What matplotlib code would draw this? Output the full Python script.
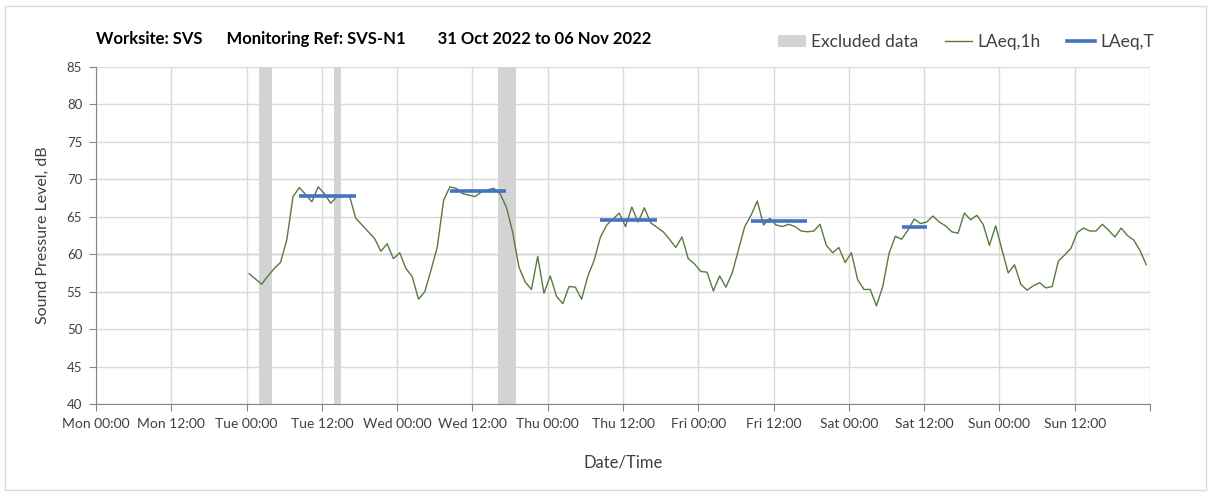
import numpy as np
import matplotlib
matplotlib.use("Agg")
from matplotlib import pyplot as plt
from matplotlib.patches import Patch, Rectangle
from matplotlib.lines import Line2D

plt.rcParams['font.family'] = ['Lato', 'DejaVu Sans']

# hourly LAeq,1h from Tue 00:00 (hour 24 after Mon 00:00) to Sun 23:00
first_hour = 24
tue = [57.4, 56.7, 56.0, 57.1, 58.1, 58.9, 61.9, 67.7, 68.9, 68.0, 67.0, 69.0,
       68.1, 66.8, 67.7, 67.7, 67.8, 64.8, 63.9, 63.0, 62.1, 60.4, 61.4, 59.4]
wed = [60.2, 58.1, 57.0, 54.0, 55.0, 57.9, 61.0, 67.2, 69.0, 68.8, 68.1, 67.9,
       67.7, 68.3, 68.6, 68.8, 68.1, 66.3, 63.0, 58.3, 56.3, 55.3, 59.7, 54.8]
thu = [57.1, 54.4, 53.4, 55.7, 55.6, 54.0, 57.1, 59.2, 62.3, 63.9, 64.7, 65.5,
       63.7, 66.3, 64.3, 66.2, 64.2, 63.6, 63.0, 62.0, 60.9, 62.3, 59.4, 58.7]
fri = [57.7, 57.6, 55.1, 57.1, 55.6, 57.5, 60.6, 63.7, 65.2, 67.1, 63.9, 64.8,
       63.9, 63.7, 64.0, 63.7, 63.1, 63.0, 63.1, 64.0, 61.2, 60.2, 60.9, 58.9]
sat = [60.2, 56.6, 55.3, 55.3, 53.1, 55.7, 60.1, 62.4, 62.0, 63.2, 64.7, 64.1,
       64.3, 65.1, 64.3, 63.8, 63.0, 62.8, 65.5, 64.6, 65.2, 64.0, 61.2, 63.8]
sun = [60.6, 57.5, 58.6, 56.0, 55.2, 55.8, 56.2, 55.5, 55.7, 59.1, 59.9, 60.8,
       62.9, 63.5, 63.1, 63.1, 64.0, 63.2, 62.3, 63.5, 62.5, 61.9, 60.5, 58.6]
laeq_1h = np.array(tue + wed + thu + fri + sat + sun)
hours = first_hour + np.arange(len(laeq_1h)) + 0.4

# LAeq,T over daytime periods: start hour, end hour, level
period_start = [32, 56, 80, 104, 128]
period_end = [41, 65, 89, 113, 132]
period_level = [67.8, 68.5, 64.6, 64.4, 63.7]

# excluded data windows (hours after Mon 00:00)
excl_start = [26, 38, 64]
excl_end = [28, 39, 67]

tick_labels = ['Mon 00:00', 'Mon 12:00', 'Tue 00:00', 'Tue 12:00', 'Wed 00:00',
               'Wed 12:00', 'Thu 00:00', 'Thu 12:00', 'Fri 00:00', 'Fri 12:00',
               'Sat 00:00', 'Sat 12:00', 'Sun 00:00', 'Sun 12:00']

green = '#587a3f'
blue = '#4472c4'
grey = '#d3d3d3'
txt = '#404040'

fig = plt.figure(figsize=(12.08, 4.95), dpi=100)
fig.patches.append(Rectangle((0.004, 0.01), 0.994, 0.978, transform=fig.transFigure,
                             fill=False, edgecolor='#d9d9d9', lw=1))
ax = fig.add_axes([0.0795, 0.1838, 0.8725, 0.6808])

for s, e in zip(excl_start, excl_end):
    ax.axvspan(s, e, color=grey, lw=0, zorder=1)

ax.plot(hours, laeq_1h, color=green, lw=1, zorder=3)
for s, e, lv in zip(period_start, period_end, period_level):
    ax.plot([s + 0.4, e + 0.4], [lv, lv], color=blue, lw=2.6, zorder=4,
            solid_capstyle='butt')

ax.set_xlim(0, 168)
ax.set_ylim(40, 85)
ax.set_xticks(np.arange(0, 169, 12))
ax.set_xticklabels(tick_labels + [''], fontsize=10, color=txt)
ax.set_yticks(np.arange(40, 86, 5))
ax.set_yticklabels([str(v) for v in range(40, 86, 5)], fontsize=9.5, color=txt)
ax.grid(True, color='#d9d9d9', lw=1, zorder=0)
ax.axhline(60, color='#b5b5b5', lw=1, zorder=0.5)
ax.set_axisbelow(True)
for side in ['top', 'right']:
    ax.spines[side].set_visible(False)
for side in ['left', 'bottom']:
    ax.spines[side].set_color('#868686')
ax.tick_params(axis='both', length=5, color='#868686', pad=5)

ax.set_ylabel('Sound Pressure Level, dB', fontsize=11.5, color=txt, labelpad=12)
ax.set_xlabel('Date/Time', fontsize=12, color=txt, labelpad=18)

fig.text(0.0795, 0.922, 'Worksite: SVS      Monitoring Ref: SVS-N1        31 Oct 2022 to 06 Nov 2022',
         fontsize=12, fontweight='bold', color='#000000', va='center')

handles = [Patch(facecolor=grey, edgecolor='none'),
           Line2D([], [], color=green, lw=1),
           Line2D([], [], color=blue, lw=2.6)]
fig.legend(handles, ['Excluded data', 'LAeq,1h', 'LAeq,T'], ncol=3, frameon=False,
           loc='center right', bbox_to_anchor=(0.968, 0.915), fontsize=12.5,
           handlelength=1.6, columnspacing=1.5, handletextpad=0.3,
           labelcolor=txt)

fig.savefig('out.png', dpi=100)
